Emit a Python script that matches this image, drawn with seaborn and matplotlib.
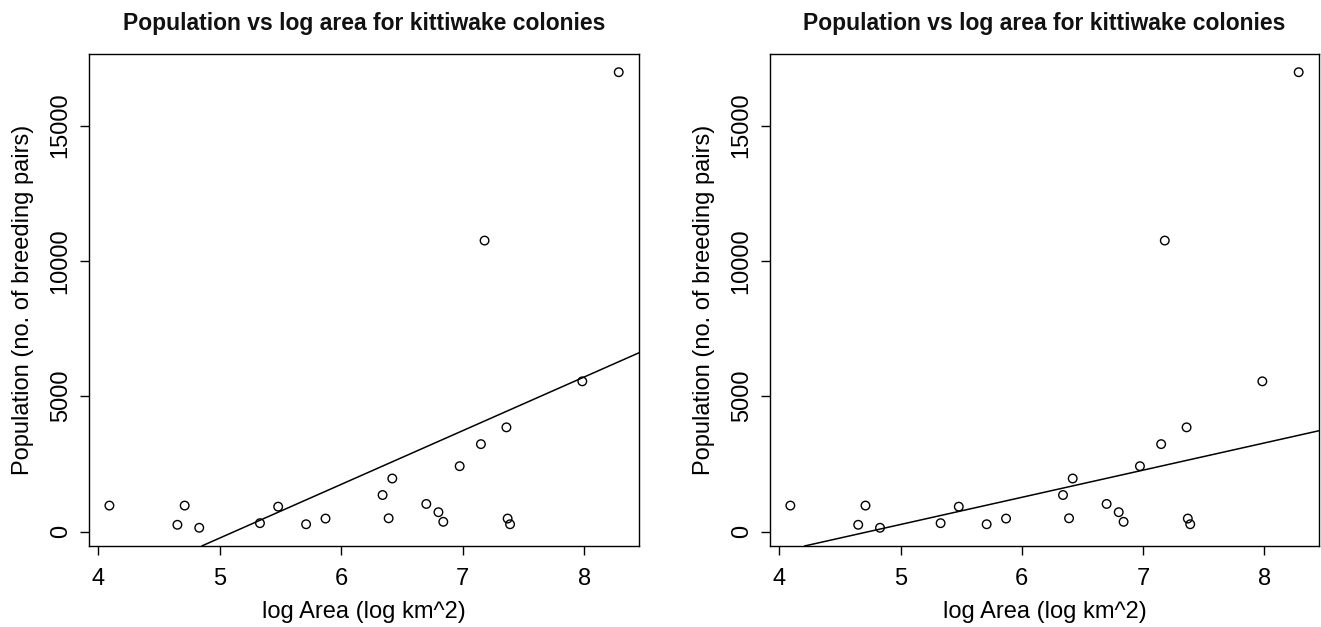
import numpy as np
import pandas as pd
import matplotlib
matplotlib.use("Agg")
import matplotlib.pyplot as plt
import seaborn as sns

# ---- data ----
log_area = [4.09, 4.65, 4.71, 4.83, 5.33, 5.48, 5.71, 5.87, 6.34, 6.39, 6.42,
            6.70, 6.80, 6.84, 6.975, 7.15, 7.18, 7.36, 7.37, 7.39, 7.985, 8.285]
population = [960, 250, 960, 140, 310, 920, 270, 480, 1350, 490, 1960,
              1020, 715, 360, 2415, 3230, 10750, 3850, 480, 270, 5550, 16970]
fit_intercepts = [-10147, -4753]
fit_slopes = [1982, 1003]
x_ticks = [4, 5, 6, 7, 8]
y_ticks = [0, 5000, 10000, 15000]
title = "Population vs log area for kittiwake colonies"
xlabel = "log Area (log km^2)"
ylabel = "Population (no. of breeding pairs)"

df = pd.DataFrame({"x": log_area, "y": population})

sns.set_style("ticks")
plt.rcParams['font.family'] = ['Liberation Sans', 'DejaVu Sans']

fig = plt.figure(figsize=(13.21, 6.27), dpi=100)
axes = [fig.add_axes([0.0674, 0.1292, 0.4164, 0.7847]),
        fig.add_axes([0.5829, 0.1292, 0.4156, 0.7847])]

def rlim(v):
    lo, hi = min(v), max(v)
    r = hi - lo
    return lo - 0.04 * r, hi + 0.04 * r

for ax, b0, b1 in zip(axes, fit_intercepts, fit_slopes):
    sns.scatterplot(data=df, x="x", y="y", ax=ax, marker="o", s=38,
                    facecolor="none", edgecolor="black", linewidth=1.0)
    ax.set_xlim(*rlim(log_area))
    ax.set_ylim(*rlim(population))
    ax.axline((0, b0), slope=b1, color="black", lw=1.1)
    ax.set_xticks(x_ticks)
    ax.set_yticks(y_ticks)
    ax.set_yticklabels([str(t) for t in y_ticks], rotation=90, va="center")
    ax.tick_params(axis="both", labelsize=17, length=6.5, width=1, color="black",
                   labelcolor="black", pad=6)
    ax.tick_params(axis="x", pad=9)
    for s in ax.spines.values():
        s.set_visible(True)
        s.set_color("black")
        s.set_linewidth(1)
    ax.set_xlabel(xlabel, fontsize=17, labelpad=8, color="black")
    ax.set_ylabel(ylabel, fontsize=17, labelpad=11, color="black")
    ax.set_title(title, fontsize=16.5, fontweight="bold", pad=17, color="#111111")

fig.savefig("out.png", dpi=100)
